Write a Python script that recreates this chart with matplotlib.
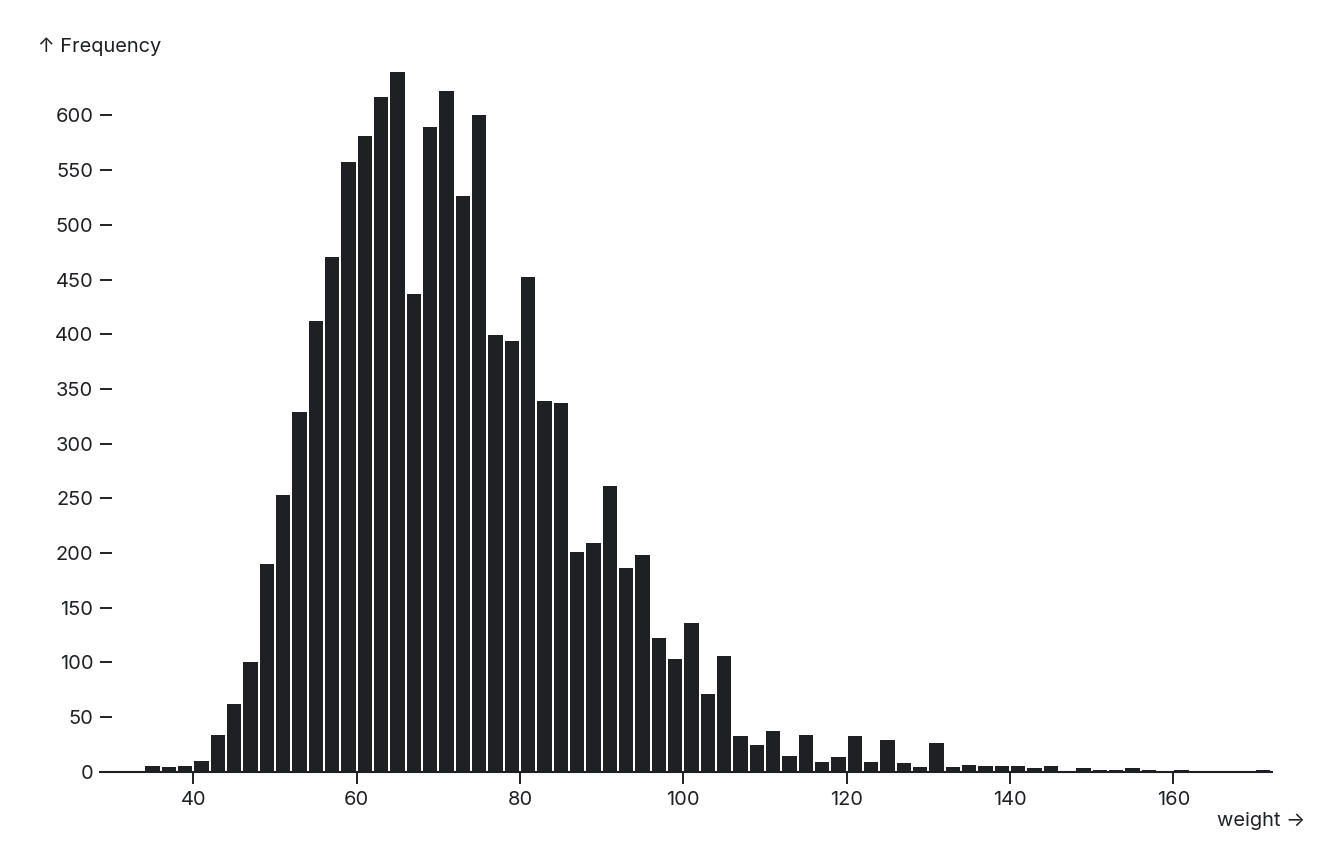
import matplotlib
matplotlib.use("Agg")
from matplotlib import pyplot as plt

# histogram of weights, bins of width 2 starting at 30
bin_starts = list(range(30, 172, 2))
counts = [1, 1, 5, 4, 5, 10, 34, 62, 100, 190,
          253, 329, 412, 471, 557, 581, 617, 640, 437, 589,
          622, 526, 600, 399, 394, 452, 339, 337, 201, 209,
          261, 186, 198, 122, 103, 136, 71, 106, 33, 24,
          37, 14, 34, 9, 13, 33, 9, 29, 8, 4,
          26, 4, 6, 5, 5, 5, 3, 5, 0, 3,
          2, 2, 3, 2, 0, 2, 1, 1, 0, 0,
          2]
bin_width = 2
x_ticks = [40, 60, 80, 100, 120, 140, 160]
y_ticks = list(range(0, 650, 50))

ink = '#1e2023'
plt.rcParams['font.family'] = ['Inter', 'DejaVu Sans']
plt.rcParams['font.size'] = 14.4
plt.rcParams['text.color'] = ink

fig = plt.figure(figsize=(13.44, 8.64), dpi=100)
W, H = 1344, 864
ax = fig.add_axes([100 / W, (H - 771.7) / H, 1172 / W, 700 / H])

gap = 1 / 8.1667  # one pixel in data units
ax.bar([b + gap for b in bin_starts], counts, width=bin_width - 2 * gap,
       align='edge', color=ink, linewidth=0)

ax.set_xlim(28.58, 172.08)
ax.set_ylim(0, 640)

for s in ['top', 'right', 'left']:
    ax.spines[s].set_visible(False)
ax.spines['bottom'].set_color(ink)
ax.spines['bottom'].set_linewidth(1.5)
ax.spines['bottom'].set_zorder(3)

ax.set_xticks(x_ticks)
ax.set_xticklabels(["%d" % v for v in x_ticks])
ax.set_yticks(y_ticks)
ax.set_yticklabels(["%d" % v for v in y_ticks])
ax.tick_params(axis='x', direction='out', length=8.6, width=1.4, color=ink,
               labelcolor=ink, pad=5)
ax.tick_params(axis='y', direction='in', length=8.6, width=1.4, color=ink,
               labelcolor=ink, pad=4.8)

fig.text(38 / W, 1 - 47 / H, '↑ Frequency', ha='left', va='center')
fig.text(1305 / W, 1 - 821 / H, 'weight →', ha='right', va='center')

plt.savefig('out.png', dpi=100)
